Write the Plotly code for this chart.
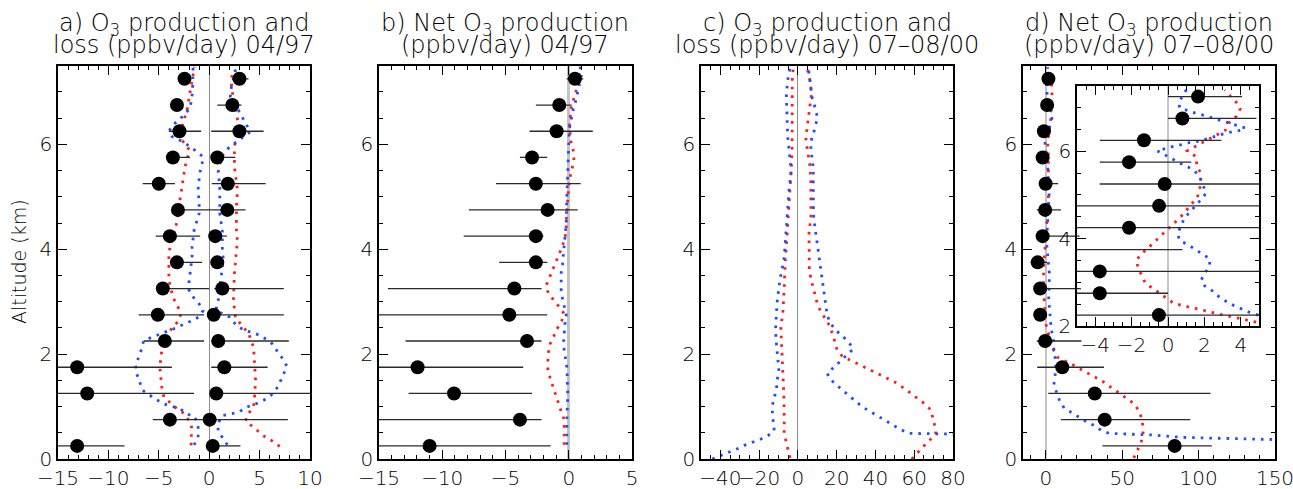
import plotly.graph_objects as go

W, H = 1293, 489

# ---------------- data ----------------
alt_obs = [0.25, 0.75, 1.25, 1.75, 2.25, 2.75, 3.25, 3.75, 4.25, 4.75, 5.25, 5.75, 6.25, 6.75, 7.25]

# a) 04/97 observed loss (negative) and production (positive)
a_loss = [-13.1, -3.9, -12.1, -13.1, -4.4, -5.1, -4.6, -3.2, -3.9, -3.1, -5.0, -3.6, -2.95, -3.2, -2.45]
a_loss_lo = [-16, -5.6, -16, -16, -6.5, -7.0, -4.8, -3.8, -5.3, -3.5, -6.6, -4.2, -4.0, -3.4, -2.6]
a_loss_hi = [-8.4, -0.3, -1.5, -3.7, -0.5, -0.5, 0.0, -0.7, -0.9, 0.2, -3.4, -1.9, -0.8, -3.0, -2.3]
a_prod = [0.35, 0.05, 0.7, 1.5, 0.9, 0.45, 1.3, 0.8, 0.6, 1.8, 1.85, 0.8, 3.0, 2.3, 3.0]
a_prod_lo = [0.0, -0.5, 0.2, 0.2, 0.2, 0.1, 0.5, 0.6, 0.4, 0.2, 0.25, 0.6, 0.2, 0.8, 2.8]
a_prod_hi = [3.1, 7.8, 11.0, 5.8, 7.9, 7.4, 7.4, 1.0, 1.75, 3.6, 5.6, 2.6, 5.4, 3.2, 3.9]

# a) model curves
a_red_loss_alt = [0.26, 0.45, 0.61, 0.73, 0.87, 0.96, 1.06, 1.18, 1.37, 1.75, 2.07, 2.33, 2.52, 2.64, 2.78,
                  2.93, 3.09, 3.41, 3.85, 4.04, 4.52, 4.94, 5.29, 5.57, 5.89, 6.08, 6.27, 6.46, 6.65, 7.0, 7.48]
a_red_loss = [-1.8, -1.8, -1.75, -2.0, -2.5, -3.2, -3.8, -4.5, -4.7, -4.9, -4.7, -4.3, -3.6, -3.0, -2.8,
              -3.2, -3.6, -4.0, -4.0, -3.9, -3.2, -2.9, -2.6, -2.4, -1.95, -2.7, -2.8, -2.5, -2.2, -1.9, -1.46]
a_red_prod_alt = [0.24, 0.35, 0.41, 0.54, 0.73, 0.87, 0.99, 1.18, 1.5, 1.82, 2.13, 2.4, 2.55, 2.71, 3.03,
                  3.54, 4.17, 4.3, 4.81, 5.13, 5.57, 5.95, 6.15, 6.4, 6.65, 7.1, 7.42]
a_red_prod = [7.0, 6.2, 5.6, 4.8, 3.6, 3.9, 4.4, 4.5, 4.6, 4.5, 4.4, 3.9, 3.2, 2.6, 2.4,
              2.5, 2.8, 2.7, 2.7, 2.8, 2.5, 2.5, 2.7, 2.9, 2.6, 2.2, 2.3]
a_blue_loss_alt = [0.27, 0.41, 0.61, 0.8, 0.86, 0.96, 1.05, 1.15, 1.31, 1.47, 1.63, 1.78, 1.94, 2.1, 2.26,
                   2.39, 2.5, 2.64, 2.71, 2.83, 2.96, 3.09, 3.22, 3.38, 3.54, 3.85, 4.04, 4.36, 4.68, 4.86,
                   5.19, 5.48, 5.64, 5.76, 5.86, 5.95, 6.05, 6.15, 6.24, 6.36, 6.46, 6.69, 7.0, 7.48]
a_blue_loss = [-1.5, -1.1, -1.1, -1.4, -2.2, -2.9, -4.5, -5.4, -6.6, -6.9, -7.2, -7.3, -7.0, -6.7, -6.5,
               -4.8, -3.3, -1.7, -1.0, -0.6, -1.0, -1.6, -2.0, -2.0, -1.9, -1.7, -1.7, -1.5, -1.0, -1.0,
               -1.1, -0.9, -0.7, -0.6, -1.2, -1.9, -2.6, -3.7, -4.0, -3.7, -3.0, -1.9, -1.65, -1.6]
a_blue_prod_alt = [0.27, 0.41, 0.53, 0.67, 0.83, 0.86, 0.89, 0.99, 1.04, 1.12, 1.21, 1.37, 1.47, 1.63, 1.77,
                   1.91, 2.04, 2.19, 2.28, 2.36, 2.42, 2.45, 2.55, 2.71, 2.83, 3.03, 3.28, 3.54, 3.79, 4.04,
                   4.36, 4.68, 4.86, 5.19, 5.48, 5.76, 5.95, 6.05, 6.15, 6.24, 6.37, 6.5, 6.65, 6.91, 7.1, 7.39, 7.48]
a_blue_prod = [1.8, 1.3, 0.9, 0.85, 1.3, 2.1, 2.9, 3.7, 4.5, 5.4, 6.1, 6.8, 7.0, 7.4, 7.7,
               7.3, 6.8, 6.3, 5.7, 5.0, 4.15, 3.5, 2.7, 2.0, 0.65, 0.9, 1.05, 1.2, 1.4, 1.3,
               1.3, 1.05, 1.05, 1.05, 0.9, 1.2, 2.0, 2.7, 3.5, 4.1, 3.7, 3.35, 2.9, 2.1, 2.2, 2.6, 2.4]

# b) 04/97 net production
b_net = [-11.0, -3.86, -9.07, -11.95, -3.3, -4.7, -4.3, -2.6, -2.6, -1.67, -2.6, -2.9, -0.96, -0.75, 0.49]
b_net_lo = [-16, -16, -12.66, -16, -12.9, -16, -14.3, -5.5, -8.3, -7.9, -5.75, -3.86, -3.1, -2.6, -0.17]
b_net_hi = [-1.43, -2.15, -2.9, -3.6, -2.15, -1.7, -2.15, -1.7, -2.0, 0.7, 0.94, -1.7, 1.9, 0.23, 1.15]
b_red_alt = [0.27, 0.43, 0.59, 0.75, 0.91, 1.07, 1.23, 1.39, 1.55, 1.7, 1.87, 2.03, 2.19, 2.34, 2.49,
             2.63, 2.77, 2.9, 3.03, 3.15, 3.3, 3.44, 3.6, 3.76, 3.9, 4.06, 4.22, 4.38, 4.55, 4.71,
             5.0, 5.2, 5.37, 5.52, 5.68, 5.85, 6.0, 6.34, 6.67, 6.83, 7.16, 7.48]
b_red = [-0.36, -0.36, -0.36, -0.36, -0.6, -0.8, -1.03, -1.26, -1.48, -1.65, -1.65, -1.6, -1.48, -1.22, -0.9,
         -0.57, -0.36, -0.75, -1.2, -1.6, -1.8, -1.55, -1.3, -1.0, -0.75, -0.5, -0.3, -0.2, -0.2, -0.15,
         -0.1, 0.0, 0.1, 0.25, 0.4, 0.4, 0.2, 0.05, 0.17, 0.35, 0.75, 0.88]
b_blue_alt = [0.27, 0.75, 1.23, 1.55, 1.75, 1.91, 2.07, 2.26, 2.42, 2.58, 2.74, 2.9, 3.07, 3.22, 3.38,
              3.54, 3.7, 3.85, 4.06, 4.5, 5.0, 5.5, 6.0, 6.3, 6.52, 6.67, 6.83, 7.0, 7.16, 7.32, 7.48]
b_blue = [-0.15, -0.15, -0.08, -0.1, -0.15, -0.25, -0.36, -0.4, -0.36, -0.3, -0.2, -0.36, -0.5, -0.6, -0.6,
          -0.6, -0.5, -0.45, -0.36, -0.2, -0.15, -0.05, 0.0, 0.05, 0.2, 0.35, 0.55, 0.7, 0.88, 1.0, 0.9]

# c) 07-08/00 model production and loss
c_red_loss_alt = [0.02, 0.17, 0.33, 0.49, 0.75, 1.0, 1.25, 1.5, 1.84, 2.13, 2.5, 2.65, 2.83, 3.17, 3.49,
                  3.8, 4.13, 4.5, 5.0, 5.62, 5.96, 6.6, 7.29, 7.44]
c_red_loss = [-4.1, -5.0, -6.1, -7.1, -7.05, -7.0, -7.3, -7.6, -7.9, -8.1, -8.8, -8.3, -7.7, -7.2, -6.9,
              -6.5, -5.85, -5.2, -4.2, -3.3, -3.0, -2.9, -2.9, -2.4]
c_blue_loss_alt = [0.0, 0.06, 0.13, 0.19, 0.26, 0.32, 0.38, 0.45, 0.54, 0.7, 0.86, 1.02, 1.19, 1.35, 1.51,
                   1.67, 1.84, 2.0, 2.17, 2.33, 2.5, 2.66, 2.83, 2.99, 3.17, 3.33, 3.49, 3.65, 3.8, 3.99,
                   4.14, 4.3, 4.47, 4.63, 4.79, 4.95, 5.11, 5.29, 5.45, 5.62, 5.78, 5.96, 6.12, 6.28, 6.44,
                   6.6, 6.79, 6.96, 7.12, 7.29, 7.44]
c_blue_loss = [-44.2, -39.9, -35.9, -31.6, -27.7, -23.4, -19.1, -15.3, -12.2, -12.7, -13.2, -13.2, -12.2, -11.0, -10.7,
               -9.8, -10.2, -10.7, -11.0, -11.4, -11.5, -11.4, -11.0, -10.7, -10.2, -9.6, -8.9, -8.0, -7.2, -6.8,
               -6.5, -6.4, -6.0, -5.7, -5.5, -5.0, -4.6, -4.1, -3.6, -3.8, -4.3, -4.8, -5.2, -5.4, -5.6,
               -5.7, -5.85, -6.0, -5.5, -5.0, -4.1]
c_red_prod_alt = [0.0, 0.12, 0.24, 0.35, 0.48, 0.62, 0.78, 0.94, 1.05, 1.15, 1.26, 1.35, 1.45, 1.52, 1.59,
                  1.67, 1.74, 1.8, 1.88, 1.96, 2.07, 2.23, 2.38, 2.55, 2.68, 2.82, 2.96, 3.12, 3.28, 3.44,
                  3.61, 3.78, 3.94, 4.11, 4.3, 4.62, 4.94, 5.27, 5.59, 5.92, 6.08, 6.24, 6.41, 6.74, 6.97,
                  7.22, 7.42]
c_red_prod = [58.7, 61.6, 64.7, 67.8, 71.1, 70.7, 69.5, 68.5, 65.5, 62.1, 58.2, 54.7, 50.9, 47.1, 43.2,
              38.9, 35.1, 31.1, 27.2, 22.9, 20.3, 19.1, 17.9, 16.2, 13.9, 11.7, 10.0, 8.8, 7.6, 6.7,
              5.9, 5.85, 5.85, 5.7, 5.7, 6.7, 6.7, 6.7, 6.2, 4.8, 4.1, 4.5, 5.2, 6.2, 7.05,
              6.2, 5.0]
c_blue_prod_alt = [0.44, 0.46, 0.48, 0.48, 0.48, 0.48, 0.49, 0.49, 0.57, 0.65, 0.73, 0.82, 0.91, 0.99, 1.1,
                   1.2, 1.31, 1.42, 1.54, 1.64, 1.75, 1.87, 1.98, 2.1, 2.21, 2.33, 2.44, 2.58, 2.74, 2.9,
                   3.07, 3.24, 3.4, 3.56, 3.73, 3.89, 4.06, 4.22, 4.38, 4.55, 4.71, 4.88, 5.04, 5.21, 5.38,
                   5.54, 5.7, 5.87, 6.03, 6.19, 6.35, 6.51, 6.67, 6.83, 6.91, 7.07, 7.23, 7.37, 7.48]
c_blue_prod = [130.0, 100.0, 79.6, 75.5, 70.9, 66.4, 61.8, 57.1, 52.6, 48.9, 45.1, 41.1, 37.2, 33.4, 29.8,
               26.5, 23.1, 19.6, 16.2, 15.1, 18.6, 22.0, 25.5, 28.6, 26.5, 23.4, 20.0, 16.9, 15.1, 14.5,
               13.8, 13.1, 12.6, 11.9, 11.4, 11.0, 10.1, 9.6, 8.8, 8.3, 8.0, 7.9, 7.9, 7.9, 7.9,
               7.9, 7.4, 6.9, 6.4, 7.9, 9.1, 10.1, 9.1, 7.9, 7.2, 6.7, 6.2, 5.7, 5.0]

# d) 07-08/00 net production
d_net = [84.3, 38.5, 32.0, 10.7, -0.5, -3.75, -3.75, -5.4, -2.14, -0.49, -0.18, -2.14, -1.32, 0.79, 1.65]
d_net_lo = [37.0, 9.8, 1.5, -5.7, -6.0, -6.0, -6.0, -7.0, -6.0, -6.0, -3.75, -3.75, -3.75, 0.0, 0.0]
d_net_hi = [108.6, 94.5, 107.8, 38.0, 23.3, 0.0, 22.9, 0.79, 22.0, 9.8, 8.0, 1.28, 2.93, 4.86, 4.07]
d_red_alt = [0.02, 0.16, 0.29, 0.45, 0.61, 0.75, 0.89, 1.02, 1.12, 1.21, 1.31, 1.4, 1.51, 1.59, 1.67,
             1.75, 1.82, 1.89, 1.94, 2.08, 2.12, 2.16, 2.21, 2.24, 2.29, 2.34, 2.38, 2.42, 2.47, 2.52,
             2.64, 2.75, 2.86, 2.98, 3.17, 3.34, 3.51, 3.67, 3.8, 3.93, 4.07, 4.22, 4.34, 4.49, 4.64,
             4.79, 4.93, 5.12, 5.31, 5.5, 5.67, 5.87, 6.01, 6.1, 6.2, 6.3, 6.4, 6.48, 6.65, 6.8,
             6.97, 7.1, 7.25, 7.4]
d_red = [57.5, 59.6, 62.0, 63.6, 63.6, 62.9, 61.4, 58.6, 54.9, 50.1, 45.1, 40.7, 35.7, 30.3, 25.5,
         20.7, 16.1, 10.9, 7.6, 4.95, 4.49, 4.0, 3.54, 3.08, 2.62, 2.16, 1.69, 1.23, 0.77, 0.31,
         -0.09, -0.46, -0.86, -1.24, -1.46, -1.65, -1.74, -1.41, -1.06, -0.73, -0.36, -0.03, 0.31, 0.68, 1.0,
         1.28, 1.6, 1.74, 1.8, 1.8, 1.58, 1.56, 1.06, 1.47, 1.89, 2.33, 2.75, 3.15, 3.35, 3.76,
         3.97, 3.8, 3.45, 3.12]
d_blue_alt = [0.36, 0.37, 0.38, 0.38, 0.4, 0.4, 0.41, 0.43, 0.46, 0.47, 0.48, 0.49, 0.54, 0.64, 0.71,
              0.8, 0.88, 0.97, 1.1, 1.26, 1.42, 1.56, 1.75, 1.94, 2.13, 2.25, 2.31, 2.39, 2.47, 2.56,
              2.67, 2.81, 2.92, 3.06, 3.22, 3.4, 3.54, 3.65, 3.76, 3.86, 3.95, 4.1, 4.28, 4.45, 4.61,
              4.75, 5.04, 5.23, 5.41, 5.55, 5.64, 5.73, 5.83, 5.92, 6.01, 6.06, 6.11, 6.15, 6.2, 6.23,
              6.29, 6.4, 6.44, 6.48, 6.53, 6.59, 6.65, 6.7, 6.76, 6.82, 6.87, 6.93, 6.99, 7.12, 7.3, 7.47]
d_blue = [165.0, 148.5, 137.6, 125.6, 114.1, 103.4, 91.9, 81.0, 69.7, 58.1, 47.3, 41.4, 36.4, 31.6, 26.6,
          21.8, 16.8, 12.0, 9.1, 7.4, 5.2, 5.9, 6.5, 6.0, 5.0, 4.95, 4.49, 4.03, 3.61, 3.21,
          2.8, 2.42, 2.01, 1.83, 2.05, 2.29, 2.29, 1.89, 1.52, 1.1, 0.66, 0.52, 0.7, 0.88, 1.19,
          1.52, 2.1, 1.92, 1.74, 1.47, 1.1, 0.64, 0.24, -0.18, -0.6, -0.18, 0.28, 0.73, 1.19, 1.69,
          2.14, 3.06, 3.48, 3.98, 4.25, 3.79, 3.35, 2.88, 2.44, 1.98, 1.52, 1.04, 0.64, 0.6, 0.86, 1.1]

# tick labels
alt_ticks = [0, 2, 4, 6]
inset_alt_ticks = [2, 4, 6]

titles = [
    ("a) O<sub>3</sub> production and", "loss (ppbv/day) 04/97"),
    ("b) Net O<sub>3</sub> production", "(ppbv/day) 04/97"),
    ("c) O<sub>3</sub> production and", "loss (ppbv/day) 07–08/00"),
    ("d) Net O<sub>3</sub> production", "(ppbv/day) 07–08/00"),
]

# ---------------- styling ----------------
RED = "#ff1c1c"
BLUE = "#1f4dff"
FONT = "DejaVu Sans"
TXT = "#000000"
DOT = "2.6px,6px"

fig = go.Figure()


def curve(x, y, color, ax):
    fig.add_trace(go.Scatter(x=x, y=y, mode="lines", xaxis="x" + ax, yaxis="y" + ax,
                             line=dict(color=color, width=2.8, dash=DOT), hoverinfo="skip",
                             showlegend=False))


def obs(vals, lo, hi, ax, msize=14):
    fig.add_trace(go.Scatter(
        x=vals, y=alt_obs, mode="markers", xaxis="x" + ax, yaxis="y" + ax,
        marker=dict(color="black", size=msize),
        error_x=dict(type="data", symmetric=False,
                     array=[h - v for h, v in zip(hi, vals)],
                     arrayminus=[v - l for v, l in zip(vals, lo)],
                     width=0, thickness=1.3, color="#2a2a2a"),
        showlegend=False, hoverinfo="skip"))


# panel a
curve(a_red_loss, a_red_loss_alt, RED, "")
curve(a_red_prod, a_red_prod_alt, RED, "")
curve(a_blue_loss, a_blue_loss_alt, BLUE, "")
curve(a_blue_prod, a_blue_prod_alt, BLUE, "")
obs(a_loss, a_loss_lo, a_loss_hi, "")
obs(a_prod, a_prod_lo, a_prod_hi, "")
# panel b
curve(b_red, b_red_alt, RED, "2")
curve(b_blue, b_blue_alt, BLUE, "2")
obs(b_net, b_net_lo, b_net_hi, "2")
# panel c
curve(c_red_loss, c_red_loss_alt, RED, "3")
curve(c_red_prod, c_red_prod_alt, RED, "3")
curve(c_blue_loss, c_blue_loss_alt, BLUE, "3")
curve(c_blue_prod, c_blue_prod_alt, BLUE, "3")
# panel d
curve(d_red, d_red_alt, RED, "4")
curve(d_blue, d_blue_alt, BLUE, "4")
obs(d_net, d_net_lo, d_net_hi, "4")
# inset
curve(d_red, d_red_alt, RED, "5")
curve(d_blue, d_blue_alt, BLUE, "5")
obs(d_net, d_net_lo, d_net_hi, "5")


def xd(a, b):
    return [a / W, b / W]


def yd(top, bottom):
    return [(H - bottom) / H, (H - top) / H]


tickfont = dict(family=FONT, size=20, color=TXT, weight=200)


def xaxis(dom, rng, dtick, minor, zc, zw):
    return dict(domain=dom, range=rng, dtick=dtick, tick0=0, tickangle=0, showgrid=False,
                zeroline=True, zerolinecolor=zc, zerolinewidth=zw,
                showline=True, linecolor="black", linewidth=1.6, mirror="ticks",
                ticks="inside", ticklen=9, tickwidth=1.3, tickcolor="black",
                ticklabeloverflow="allow",
                minor=dict(dtick=minor, tick0=0, ticks="inside", ticklen=4.5, tickwidth=1.1,
                           tickcolor="black"),
                tickfont=tickfont, fixedrange=True)


def yaxis(anchor, dom, rng, ticks):
    return dict(domain=dom, range=rng, anchor=anchor, tickvals=ticks, showgrid=False,
                zeroline=False, showline=True, linecolor="black", linewidth=1.6, mirror="ticks",
                ticks="inside", ticklen=9, tickwidth=1.3, tickcolor="black",
                minor=dict(dtick=0.5, tick0=0, ticks="inside", ticklen=4.5, tickwidth=1.1,
                           tickcolor="black"),
                tickfont=tickfont, fixedrange=True)


Y_DOM = yd(65.7, 459)
Y_RNG = [0, 7.5]
layout = dict(
    width=W, height=H, margin=dict(l=0, r=0, t=0, b=0, autoexpand=False),
    paper_bgcolor="white", plot_bgcolor="rgba(0,0,0,0)",
    showlegend=False,
    xaxis=dict(xaxis(xd(58, 310), [-15, 10], 5, 1, "#8c8c8c", 1.2), anchor="y"),
    yaxis=yaxis("x", Y_DOM, Y_RNG, alt_ticks),
    xaxis2=dict(xaxis(xd(379, 632), [-15, 5], 5, 1, "#c4c4c4", 3), anchor="y2"),
    yaxis2=yaxis("x2", Y_DOM, Y_RNG, alt_ticks),
    xaxis3=dict(xaxis(xd(701, 953), [-50, 80], 20, 5, "#8c8c8c", 1.2), anchor="y3"),
    yaxis3=yaxis("x3", Y_DOM, Y_RNG, alt_ticks),
    xaxis4=dict(xaxis(xd(1023, 1275), [-15, 150], 50, 10, "#c4c4c4", 2.2), anchor="y4"),
    yaxis4=yaxis("x4", Y_DOM, Y_RNG, alt_ticks),
    xaxis5=dict(xaxis(xd(1077, 1259), [-5, 5], 2, 0.5, "#c4c4c4", 2.2), anchor="y5"),
    yaxis5=yaxis("x5", yd(85.7, 326), [2, 7.5], inset_alt_ticks),
)
fig.update_layout(**layout)

centers = [184, 505, 827, 1149]
ann = []
for (l1, l2), cx in zip(titles, centers):
    ann.append(dict(text=l1, x=cx / W, y=(H - 24) / H, xref="paper", yref="paper",
                    xanchor="center", yanchor="middle", showarrow=False,
                    font=dict(family=FONT, size=24, color=TXT, weight=200)))
    ann.append(dict(text=l2, x=cx / W, y=(H - 45) / H, xref="paper", yref="paper",
                    xanchor="center", yanchor="middle", showarrow=False,
                    font=dict(family=FONT, size=24, color=TXT, weight=200)))
ann.append(dict(text="Altitude (km)", x=19 / W, y=(H - 262) / H, xref="paper", yref="paper",
                xanchor="center", yanchor="middle", textangle=-90, showarrow=False,
                font=dict(family=FONT, size=19, color=TXT, weight=200)))
fig.update_layout(annotations=ann)

fig.write_html("out.html", config={"displayModeBar": False},
               post_script="document.body.style.margin='0';document.body.style.overflow='hidden';")
